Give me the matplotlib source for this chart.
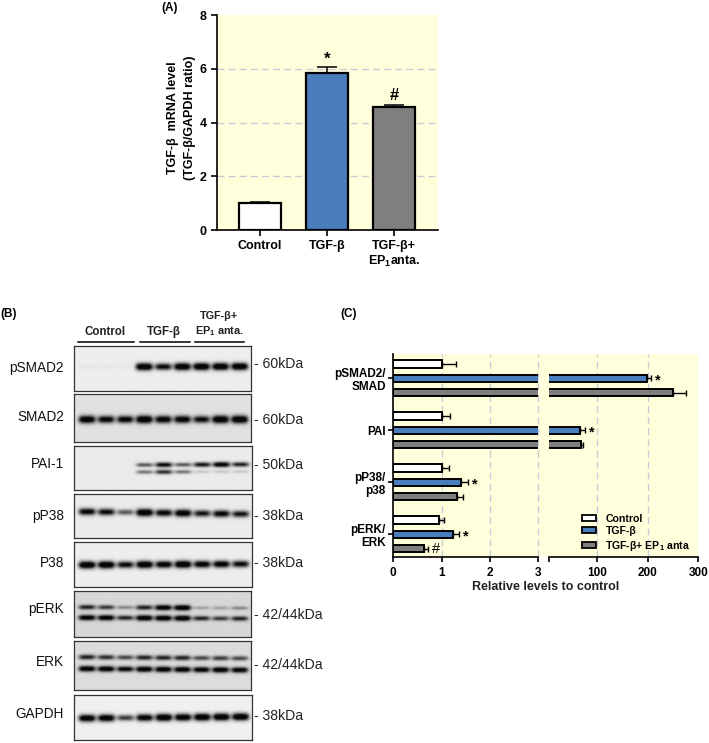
import numpy as np
import matplotlib
matplotlib.use("Agg")
import matplotlib.pyplot as plt
from matplotlib.patches import Patch

plt.rcParams['font.family'] = ['Liberation Sans', 'DejaVu Sans']
plt.rcParams['mathtext.fontset'] = 'custom'
plt.rcParams['mathtext.rm'] = 'Liberation Sans:bold'
plt.rcParams['mathtext.it'] = 'Liberation Sans:bold'
plt.rcParams['mathtext.bf'] = 'Liberation Sans:bold'
plt.rcParams['mathtext.default'] = 'rm'

# ---------- data ----------
a_labels = ['Control', 'TGF-β', 'TGF-β+\nEP$_1$anta.']
a_values = [1.0, 5.85, 4.58]
a_errors = [0.05, 0.22, 0.08]
a_marks = ['', '*', '#']

c_groups = ['pSMAD2/\nSMAD', 'PAI', 'pP38/\np38', 'pERK/\nERK']
c_series = ['Control', 'TGF-β', 'TGF-β+ EP$_1$ anta']
c_control = [1.0, 1.0, 1.0, 0.94]
c_control_err = [0.30, 0.18, 0.15, 0.11]
c_tgf = [198.0, 66.0, 1.40, 1.24]
c_tgf_err = [8.0, 9.0, 0.15, 0.12]
c_anta = [250.0, 68.0, 1.32, 0.64]
c_anta_err = [25.0, 4.0, 0.13, 0.08]
c_tgf_marks = ['*', '*', '*', '*']
c_anta_marks = ['', '', '', '#']

blot_names = ['pSMAD2', 'SMAD2', 'PAI-1', 'pP38', 'P38', 'pERK', 'ERK', 'GAPDH']
blot_sizes = ['60kDa', '60kDa', '50kDa', '38kDa', '38kDa', '42/44kDa', '42/44kDa', '38kDa']
blot_background = [0.93, 0.88, 0.92, 0.92, 0.93, 0.84, 0.86, 0.94]
# lane band strengths (nine lanes); rows = bands of each blot
pSMAD2_bands = [[0.03, 0.03, 0.02, 1.0, 0.8, 1.0, 1.0, 1.0, 1.0]]
SMAD2_bands = [[0.95, 0.85, 0.85, 1.0, 0.9, 0.9, 0.8, 1.0, 1.0]]
PAI1_bands = [[0.0, 0.0, 0.0, 0.5, 0.8, 0.5, 0.75, 0.9, 0.7],
              [0.0, 0.0, 0.0, 0.4, 0.65, 0.4, 0.12, 0.12, 0.12]]
pP38_bands = [[0.85, 0.8, 0.5, 1.0, 0.85, 0.95, 0.75, 0.85, 0.75]]
P38_bands = [[1.0, 1.0, 0.8, 1.0, 0.9, 1.0, 0.9, 0.9, 0.8]]
pERK_bands = [[0.7, 0.6, 0.3, 0.7, 0.95, 1.0, 0.2, 0.2, 0.3],
              [0.95, 0.95, 0.7, 1.0, 1.0, 1.0, 0.7, 0.6, 0.7]]
ERK_bands = [[0.7, 0.65, 0.55, 0.7, 0.7, 0.7, 0.55, 0.6, 0.55],
             [0.95, 0.95, 0.85, 0.95, 0.95, 0.95, 0.9, 0.95, 0.9]]
GAPDH_bands = [[0.95, 0.95, 0.6, 0.9, 1.0, 0.95, 1.0, 1.0, 1.0]]
blot_bands = [pSMAD2_bands, SMAD2_bands, PAI1_bands, pP38_bands, P38_bands,
              pERK_bands, ERK_bands, GAPDH_bands]

# ---------- layout helpers (pixels, origin top-left) ----------
W, H = 709, 743
fig = plt.figure(figsize=(W / 100, H / 100), dpi=100, facecolor='white')
def axpx(x0, y0, x1, y1, **kw):
    return fig.add_axes([x0 / W, 1 - y1 / H, (x1 - x0) / W, (y1 - y0) / H], **kw)
def tpx(x, y, s, **kw):
    kw.setdefault('ha', 'center'); kw.setdefault('va', 'center')
    return fig.text(x / W, 1 - y / H, s, **kw)

YELLOW = '#FFFFDC'
BLUE = '#4A7DBB'
GREY = '#7F7F7F'
GRID = '#C9CCD6'
LW = 1.6

# ---------- panel A ----------
tpx(170, 8, '(A)', fontsize=8.5, fontweight='bold')
ax = axpx(216.7, 15, 438, 230, facecolor=YELLOW)
pos = np.arange(3)
for p, v, e, c, m in zip(pos, a_values, a_errors, ['white', BLUE, GREY], a_marks):
    ax.bar(p, v, width=0.64, facecolor=c, edgecolor='black', linewidth=LW, zorder=3)
    ax.errorbar(p, v, yerr=[[0], [e]], color='black', capsize=7.5, elinewidth=1.1,
                capthick=1.1, zorder=2)
    if m:
        ax.annotate(m, (p, v + e), xytext=(0, 1 if m == '#' else 0), textcoords='offset points',
                    ha='center', va='bottom', fontsize=12, fontweight='bold')
ax.set_xlim(-0.646, 2.657)
ax.set_ylim(0, 8)
ax.set_yticks([0, 2, 4, 6, 8])
ax.set_xticks(pos, a_labels)
for g in [2, 4, 6]:
    ax.axhline(g, color=GRID, lw=1.0, ls=(0, (5, 3)), zorder=1)
for s in ['top', 'right']:
    ax.spines[s].set_visible(False)
for s in ['left', 'bottom']:
    ax.spines[s].set_linewidth(1.2)
ax.tick_params(width=1.2, length=4, pad=3, labelsize=9)
for t in ax.get_xticklabels() + ax.get_yticklabels():
    t.set_fontweight('bold')
tpx(181.5, 118, 'TGF-β  mRNA level\n(TGF-β/GAPDH ratio)', rotation=90, fontsize=9,
    fontweight='bold', linespacing=1.55)

# ---------- panel B ----------
tpx(9, 314, '(B)', fontsize=8.5, fontweight='bold')
boxes = [(73.7, 346, 250.7, 390.7), (73.7, 394.3, 250.7, 441.7), (73.7, 445.7, 251.7, 490.3),
         (73.7, 493.7, 251.7, 538), (73.7, 542.3, 251.7, 587), (73.7, 590.7, 250.7, 636.7),
         (73.7, 641, 250.7, 690), (73.7, 695, 251.7, 740)]
rows = [[0.46], [0.53], [0.44, 0.60], [0.44], [0.50], [0.36, 0.59], [0.34, 0.58], [0.50]]
tilts = [-0.02, 0.0, -0.03, 0.10, -0.04, 0.04, 0.05, -0.06]
name_y = [368, 417, 464, 516, 563, 609, 662, 714]
size_y = [364, 420, 465, 516, 563, 615, 665, 716]
lanes = 0.073 + 0.108 * np.arange(9)
for box, name, size, bg, bands, ry, tilt, ny, sy in zip(boxes, blot_names, blot_sizes, blot_background,
                                                       blot_bands, rows, tilts, name_y, size_y):
    b = axpx(*box)
    xx, yy = np.meshgrid(np.linspace(0, 1, 360), np.linspace(0, 1, 100))
    dark = np.zeros_like(xx)
    for strengths, r in zip(bands, ry):
        for lane, s in zip(lanes, strengths):
            sx = 0.048
            sy_b = (0.075 if len(ry) == 1 else 0.055) * (0.6 + 0.5 * s)
            cy = r + tilt * (lane - 0.5) * 0.6
            dark += 1.3 * s * np.exp(-((xx - lane) / sx) ** 4) * np.exp(-((yy - cy) / sy_b) ** 2)
    img = bg * (1 - np.clip(dark, 0, 1)) + 0.03 * np.clip(dark, 0, 1)
    b.imshow(img, cmap='gray', vmin=0, vmax=1, extent=[0, 1, 1, 0], aspect='auto', interpolation='bilinear')
    b.set_xticks([]); b.set_yticks([])
    for s in b.spines.values():
        s.set_linewidth(0.9); s.set_color('#333333')
    tpx(64, ny, name, ha='right', fontsize=9.8, color='#111111')
    tpx(253.5, sy, '- ' + size, ha='left', fontsize=10.1, color='#222222')
for x0, x1, label in [(78, 134, 'Control'), (140, 190, 'TGF-β'), (195, 244, None)]:
    fig.add_artist(plt.Line2D([x0 / W, x1 / W], [1 - 341.7 / H] * 2, color='black', lw=1.1))
    if label:
        tpx((x0 + x1) / 2 - 1, 332, label, fontsize=8.3, fontweight='bold', color='#222222')
tpx(219, 324.5, 'TGF-β+\nEP$_1$ anta.', fontsize=7.8, fontweight='bold', color='#222222', linespacing=1.25)

# ---------- panel C ----------
tpx(349, 314, '(C)', fontsize=8.5, fontweight='bold')
TOP, BOT = 354.3, 556.7
bg = axpx(393.3, TOP, 698.3, BOT, facecolor=YELLOW)
bg.set_xticks([]); bg.set_yticks([])
for s in bg.spines.values():
    s.set_visible(False)
left = axpx(393.3, TOP, 538.3, BOT, facecolor='none')
right = axpx(549, TOP, 698.3, BOT, facecolor='none')

unit = 14.3
group_gap = 52 / unit
centers = group_gap * np.arange(4)
ylim = ((TOP - 378.3) / unit, (BOT - 378.3) / unit)
series = [(c_control, c_control_err, 'white', -1), (c_tgf, c_tgf_err, BLUE, 0), (c_anta, c_anta_err, GREY, 1)]
for a, is_right in ((left, False), (right, True)):
    for vals, errs, col, off in series:
        vals = np.array(vals); errs = np.array(errs)
        ys = centers + off
        keep = vals > 3 if is_right else np.ones(4, dtype=bool)
        if keep.any():
            a.errorbar(vals[keep], ys[keep], xerr=[np.zeros(keep.sum()), errs[keep]], fmt='none', ecolor='black',
                       capsize=2.3, elinewidth=1.0, capthick=1.0, zorder=2)
            a.barh(ys[keep], vals[keep], height=0.5, facecolor=col, edgecolor='black', linewidth=1.4, zorder=3)
    a.set_ylim(ylim[1], ylim[0])
    for s in ['top', 'right']:
        a.spines[s].set_visible(False)
    a.spines['bottom'].set_linewidth(1.2)
    a.tick_params(width=1.2, length=3.5, pad=4, labelsize=8.5)

left.set_xlim(0, 3)
left.set_xticks([0, 1, 2, 3])
left.set_yticks(centers, c_groups, linespacing=1.15)
left.spines['left'].set_linewidth(1.2)
left.tick_params(axis='y', labelsize=8.5, pad=2)
right.set_xlim(4.4, 300)
right.set_xticks([4.4, 100, 200, 300], ['', '100', '200', '300'])
right.set_yticks([])
right.spines['left'].set_visible(False)
for g in [1, 2, 3]:
    left.axvline(g, color=GRID, lw=1.0, ls=(0, (5, 3)), zorder=1, clip_on=False)
for g in [100, 200]:
    right.axvline(g, color=GRID, lw=1.0, ls=(0, (5, 3)), zorder=1)
for t in left.get_xticklabels() + left.get_yticklabels() + right.get_xticklabels():
    t.set_fontweight('bold')

for i, m in enumerate(c_tgf_marks):
    a = right if c_tgf[i] > 3 else left
    a.annotate(m, (c_tgf[i] + c_tgf_err[i], centers[i]), xytext=(3, -1.5), textcoords='offset points',
               ha='left', va='center', fontsize=10.5, fontweight='bold', zorder=5)
for i, m in enumerate(c_anta_marks):
    if m:
        left.annotate(m, (c_anta[i] + c_anta_err[i], centers[i] + 1), xytext=(3, 0), textcoords='offset points',
                      ha='left', va='center', fontsize=10.5, zorder=5)

handles = [Patch(facecolor=c, edgecolor='black', linewidth=1.3) for c in ['white', BLUE, GREY]]
fig.legend(handles, c_series, loc='upper left', bbox_to_anchor=(581.7 / W, 1 - 513.5 / H), frameon=False,
           borderpad=0, borderaxespad=0, handlelength=1.4, handleheight=0.5, handletextpad=0.85,
           labelspacing=0.25, prop={'size': 7.6, 'weight': 'bold'})
tpx(545.7, 587.5, 'Relative levels to control', fontsize=9, fontweight='bold', color='#222222')

fig.savefig('out.png', dpi=100)
